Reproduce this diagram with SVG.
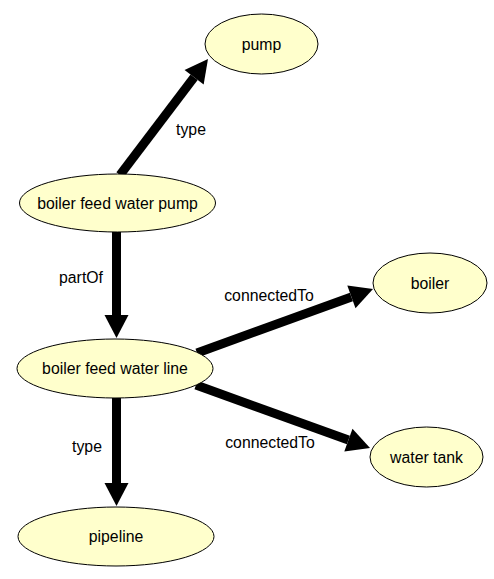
<svg xmlns="http://www.w3.org/2000/svg" width="494" height="579" viewBox="0 0 494 579">
<style>
.node ellipse{fill:#ffffcc;stroke:#000;stroke-width:1}
text{font-family:"Liberation Sans",Arial,sans-serif;font-size:15.8px;fill:#000;text-anchor:middle}
.edge line{stroke:#000;stroke-width:9;stroke-linecap:butt}
</style>
<defs>
<marker id="arr" markerUnits="userSpaceOnUse" markerWidth="24" markerHeight="24" refX="0" refY="12" orient="auto" overflow="visible">
<path d="M0,0 L23,12 L0,24 z" fill="#000"/>
</marker>
</defs>
<rect width="494" height="579" fill="#fff"/>
<g id="connectors" class="edge">
<line x1="120" y1="175" x2="194.1" y2="77.3" marker-end="url(#arr)"/>
<line x1="116.5" y1="230" x2="116.5" y2="315" marker-end="url(#arr)"/>
<line x1="116.5" y1="396" x2="116.5" y2="483" marker-end="url(#arr)"/>
<line x1="197" y1="353" x2="351.4" y2="296.9" marker-end="url(#arr)"/>
<line x1="196" y1="385" x2="348.4" y2="440.1" marker-end="url(#arr)"/>
<text x="191" y="135">type</text>
<text x="81" y="283">partOf</text>
<text x="87" y="452">type</text>
<text x="269" y="301">connectedTo</text>
<text x="270" y="448">connectedTo</text>
</g>
<g id="n-pump" class="node"><ellipse cx="261.5" cy="44" rx="56.5" ry="30"/><text x="261.5" y="49.5">pump</text></g>
<g id="n-bfwp" class="node"><ellipse cx="117.5" cy="203" rx="98" ry="29"/><text x="117.5" y="208.5">boiler feed water pump</text></g>
<g id="n-bfwl" class="node"><ellipse cx="115" cy="368.5" rx="98" ry="29.5"/><text x="115" y="374">boiler feed water line</text></g>
<g id="n-pipeline" class="node"><ellipse cx="116" cy="536.5" rx="98" ry="29.5"/><text x="116" y="542">pipeline</text></g>
<g id="n-boiler" class="node"><ellipse cx="430" cy="283" rx="57" ry="30"/><text x="430" y="288.5">boiler</text></g>
<g id="n-watertank" class="node"><ellipse cx="426.5" cy="457" rx="56.5" ry="30"/><text x="426.5" y="462.5">water tank</text></g>
</svg>
